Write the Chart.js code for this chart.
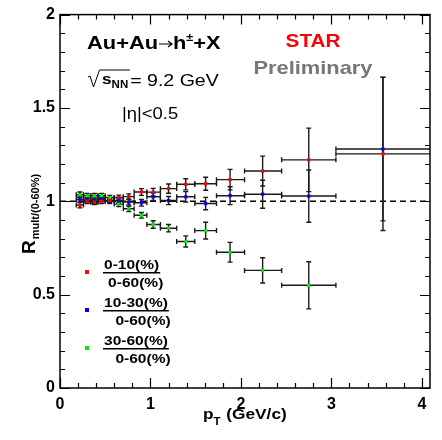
<!DOCTYPE html>
<html><head><meta charset="utf-8">
<script src="https://cdn.jsdelivr.net/npm/chart.js@4/dist/chart.umd.min.js"></script>
<style>html,body{margin:0;padding:0;background:#fff;}canvas{display:block;}</style>
</head><body>
<canvas id="c" width="442" height="440"></canvas>
<script>
// ---- data ----
const pT      = [0.22,0.30,0.38,0.46,0.55,0.65,0.76,0.90,1.03,1.20,1.39,1.61,1.88,2.24,2.75,3.57];
const binLo   = [0.18,0.26,0.34,0.42,0.50,0.60,0.70,0.82,0.96,1.11,1.29,1.49,1.73,2.04,2.45,3.05];
const binHi   = [0.26,0.34,0.42,0.50,0.60,0.70,0.82,0.96,1.11,1.29,1.49,1.73,2.04,2.45,3.05,4.50];
const r010    = [0.98,1.00,0.995,1.00,1.005,1.02,1.025,1.05,1.049,1.068,1.091,1.094,1.116,1.162,1.222,1.254];
const r010Err = [0.015,0.012,0.012,0.012,0.012,0.013,0.015,0.018,0.02,0.025,0.03,0.035,0.055,0.08,0.17,0.41];
const r1030   = [1.01,1.005,1.00,1.01,1.00,1.005,0.996,0.992,1.024,1.004,1.024,0.988,1.03,1.038,1.028,1.28];
const r1030Err= [0.015,0.012,0.012,0.012,0.012,0.013,0.015,0.018,0.02,0.022,0.028,0.033,0.048,0.075,0.14,0.385];
const r3060   = [1.035,1.03,1.03,1.03,1.02,0.985,0.96,0.925,0.876,0.856,0.785,0.843,0.727,0.63,0.55,null];
const r3060Err= [0.015,0.012,0.012,0.012,0.012,0.013,0.015,0.015,0.02,0.02,0.03,0.045,0.053,0.068,0.126,null];
const xTicks  = [0,1,2,3,4];
const yTicks  = [0,0.5,1,1.5,2];
const yTickLabels = ['0','0.5','1','1.5','2'];
const seriesNames = ['0-10(%)','10-30(%)','30-60(%)'];
const denomName = '0-60(%)';
const colors = ['#ff0000','#0000ff','#00ee00'];

function mk(vals, errs){
  const out=[];
  for(let i=0;i<pT.length;i++){ if(vals[i]==null) continue;
    out.push({x:pT[i], y:vals[i], xl:binLo[i], xh:binHi[i], e:errs[i]}); }
  return out;
}
const datasets=[[r010,r010Err],[r1030,r1030Err],[r3060,r3060Err]].map((s,k)=>({
  label:seriesNames[k], data:mk(s[0],s[1]), backgroundColor:colors[k], borderColor:colors[k],
  pointStyle:'rect', pointRadius:2.3, borderWidth:0, showLine:false
}));

const SX=1.15;
function txt(ctx,s,x,y,font,color,align){
  ctx.save(); ctx.font=font; ctx.fillStyle=color; ctx.textBaseline='alphabetic';
  const w=ctx.measureText(s).width*SX;
  const x0= align==='center'? x-w/2 : align==='right'? x-w : x;
  ctx.translate(x0,y); ctx.scale(SX,1); ctx.fillText(s,0,0); ctx.restore();
  return w;
}
const FF='"Liberation Sans", Arial, sans-serif';

const decor={
  id:'decor',
  beforeDatasetsDraw(chart){
    const {ctx, chartArea:a, scales:{x,y}}=chart;
    ctx.save();
    ctx.beginPath(); ctx.rect(a.left,a.top,a.right-a.left,a.bottom-a.top); ctx.clip();
    // dashed reference line at 1
    ctx.setLineDash([6,4]); ctx.strokeStyle='#000'; ctx.lineWidth=1.5;
    const y1=y.getPixelForValue(1);
    ctx.beginPath(); ctx.moveTo(a.left,y1); ctx.lineTo(a.right,y1); ctx.stroke();
    ctx.setLineDash([]);
    // error bars
    ctx.strokeStyle='#1a1a1a'; ctx.lineWidth=1.4;
    chart.data.datasets.forEach(ds=>ds.data.forEach(p=>{
      const px=x.getPixelForValue(p.x), py=y.getPixelForValue(p.y);
      const xl=x.getPixelForValue(p.xl), xh=x.getPixelForValue(p.xh);
      const yt=y.getPixelForValue(p.y+p.e), yb=y.getPixelForValue(p.y-p.e);
      const c=2.5;
      ctx.beginPath();
      ctx.moveTo(xl,py); ctx.lineTo(xh,py);
      ctx.moveTo(xl,py-c); ctx.lineTo(xl,py+c);
      ctx.moveTo(xh,py-c); ctx.lineTo(xh,py+c);
      ctx.moveTo(px,yt); ctx.lineTo(px,yb);
      ctx.moveTo(px-c,yt); ctx.lineTo(px+c,yt);
      ctx.moveTo(px-c,yb); ctx.lineTo(px+c,yb);
      ctx.stroke();
    }));
    ctx.restore();
  },
  afterDraw(chart){
    const {ctx, chartArea:a, scales:{x,y}}=chart;
    ctx.save();
    // frame
    ctx.strokeStyle='#000'; ctx.lineWidth=1.5;
    ctx.strokeRect(a.left,a.top,a.right-a.left,a.bottom-a.top);
    // inward ticks
    ctx.lineWidth=1.2; ctx.beginPath();
    for(let v=0; v<=4.09; v+=0.2){
      const major=Math.abs(v-Math.round(v))<1e-6; const L=major?10:5;
      const px=Math.round(x.getPixelForValue(v))+0.5;
      ctx.moveTo(px,a.bottom); ctx.lineTo(px,a.bottom-L);
      ctx.moveTo(px,a.top); ctx.lineTo(px,a.top+L);
    }
    for(let i=0;i<=20;i++){
      const v=i*0.1; const major=(i%5===0); const L=major?10:5;
      const py=Math.round(y.getPixelForValue(v))+0.5;
      ctx.moveTo(a.left,py); ctx.lineTo(a.left+L,py);
      ctx.moveTo(a.right,py); ctx.lineTo(a.right-L,py);
    }
    ctx.stroke();

    // x title: p_T (GeV/c)
    let cx=203;
    cx+=txt(ctx,'p',cx,419,'bold 15px '+FF,'#000');
    cx+=txt(ctx,'T',cx,425,'bold 10px '+FF,'#000');
    txt(ctx,' (GeV/c)',cx+1,419,'bold 15px '+FF,'#000');

    // y title rotated
    ctx.save(); ctx.translate(35,254); ctx.rotate(-Math.PI/2);
    ctx.font='bold 19px '+FF; ctx.fillStyle='#000';
    ctx.fillText('R',0,0); let w=ctx.measureText('R').width;
    ctx.font='bold 11px '+FF; ctx.fillText('mult/(0-60%)',w+1,4);
    ctx.restore();

    // annotations
    cx=87;
    cx+=txt(ctx,'Au+Au',cx,49,'bold 19px '+FF,'#000');
    ctx.save(); ctx.strokeStyle='#000'; ctx.lineWidth=1.2; ctx.beginPath();
    ctx.moveTo(cx+1,44); ctx.lineTo(cx+14,44); ctx.moveTo(cx+10,41); ctx.lineTo(cx+14,44); ctx.lineTo(cx+10,47); ctx.stroke(); ctx.restore();
    cx+=15;
    cx+=txt(ctx,'h',cx,49,'bold 19px '+FF,'#000');
    cx+=txt(ctx,'\u00b1',cx,41,'bold 11px '+FF,'#000');
    txt(ctx,'+X',cx,49,'bold 19px '+FF,'#000');

    // sqrt(s_NN) = 9.2 GeV
    ctx.save(); ctx.strokeStyle='#000'; ctx.lineWidth=1; ctx.beginPath();
    ctx.moveTo(88,77); ctx.lineTo(90,76); ctx.lineTo(93.5,87); ctx.lineTo(99.5,70); ctx.lineTo(130,70); ctx.stroke(); ctx.restore();
    cx=102;
    cx+=txt(ctx,'s',cx,84,'bold 15px '+FF,'#000');
    cx+=txt(ctx,'NN',cx,88,'bold 10px '+FF,'#000');
    txt(ctx,'= 9.2 GeV',cx+2,86,'17px '+FF,'#000');
    txt(ctx,'|\u03b7|<0.5',122,119,'16px '+FF,'#000');

    txt(ctx,'STAR',313,47,'bold 18px '+FF,'#ff0000','center');
    txt(ctx,'Preliminary',313,74,'bold 19px '+FF,'#777777','center');

    // legend
    const ly=[272,310,348];
    for(let k=0;k<3;k++){
      ctx.fillStyle=colors[k]; ctx.fillRect(85,ly[k]-2,4,4);
      const wN=txt(ctx,seriesNames[k],104,ly[k]-3,'bold 13.5px '+FF,'#000');
      ctx.fillStyle='#000'; ctx.fillRect(103,ly[k],wN+2,1.5);
      txt(ctx,denomName,104+(wN-47)/2+ (k===0?0:3),ly[k]+15,'bold 13.5px '+FF,'#000');
    }
    ctx.restore();
  }
};

new Chart(document.getElementById('c'),{
  type:'scatter',
  data:{datasets},
  options:{
    responsive:false, animation:false, devicePixelRatio:1,
    layout:{padding:{top:11,right:12,left:0,bottom:0}},
    plugins:{legend:{display:false},tooltip:{enabled:false}},
    scales:{
      x:{type:'linear',min:0,max:4.09,
         afterBuildTicks:s=>{s.ticks=xTicks.map(v=>({value:v}));},
         afterFit:s=>{s.height=52;},
         grid:{display:false,drawTicks:false,tickLength:0},border:{display:false},
         ticks:{padding:7,color:'#000',font:{family:'"Liberation Sans", Arial',size:16,weight:'bold'},
                callback:v=>String(v),maxRotation:0}},
      y:{type:'linear',min:0,max:2,
         afterBuildTicks:s=>{s.ticks=yTicks.map(v=>({value:v}));},
         afterFit:s=>{s.width=60;},
         grid:{display:false,drawTicks:false,tickLength:0},border:{display:false},
         ticks:{padding:5,color:'#000',font:{family:'"Liberation Sans", Arial',size:16,weight:'bold'},
                callback:(v)=>yTickLabels[yTicks.indexOf(v)]}}
    }
  },
  plugins:[decor]
});
</script>
</body></html>
